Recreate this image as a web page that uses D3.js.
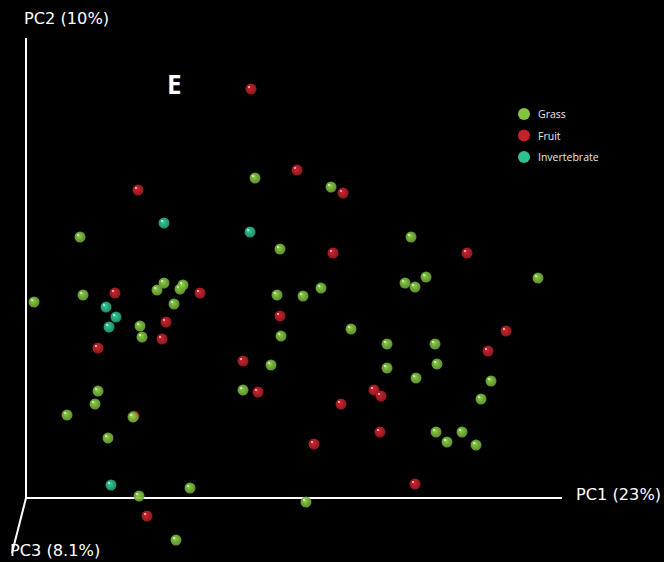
<!DOCTYPE html>
<html>
<head>
<meta charset="utf-8">
<script src="https://cdn.jsdelivr.net/npm/d3@7"></script>
<style>
  html, body { margin: 0; padding: 0; background: #000; }
  svg { display: block; }
</style>
</head>
<body>
<svg id="chart" width="664" height="562"></svg>
<script>
// PCoA scores (PC1, PC2) per sample, grouped by diet
const grassPC1 = [-0.252,-0.206,-0.203,-0.188,-0.191,-0.219,-0.178,-0.153,-0.147,-0.096,-0.110,0.020,-0.146,-0.144,-0.129,-0.122,-0.106,-0.103,-0.112,-0.031,0.045,-0.006,0.125,-0.009,0.017,0.035,-0.005,0.065,0.119,0.129,0.140,0.252,-0.015,0.101,0.101,0.149,0.151,0.130,-0.043,0.205,0.195,0.150,0.161,0.176,0.190];
const grassPC2 = [-0.032,0.033,-0.025,-0.121,-0.134,-0.145,-0.168,-0.147,-0.226,-0.218,-0.270,-0.232,-0.056,-0.067,-0.020,-0.013,-0.019,-0.015,-0.034,0.092,0.083,0.021,0.033,-0.025,-0.026,-0.018,-0.066,-0.059,-0.013,-0.017,-0.007,-0.008,-0.095,-0.074,-0.098,-0.074,-0.094,-0.108,-0.120,-0.111,-0.129,-0.162,-0.172,-0.162,-0.175];

const fruitPC1 = [-0.035,-0.148,0.011,0.057,0.047,0.181,-0.171,-0.086,-0.120,-0.124,-0.188,-0.006,-0.043,-0.028,0.088,0.095,0.055,0.220,0.202,0.028,0.094,0.129,-0.139,-0.152];
const fruitPC2 = [0.181,0.080,0.100,0.077,0.017,0.017,-0.023,-0.023,-0.052,-0.069,-0.078,-0.046,-0.091,-0.122,-0.120,-0.126,-0.134,-0.061,-0.081,-0.174,-0.162,-0.214,-0.246,-0.146];

const invertPC1 = [-0.122,-0.036,-0.180,-0.170,-0.177,-0.175];
const invertPC2 = [0.047,0.038,-0.037,-0.047,-0.057,-0.215];

const groups = ["Grass", "Fruit", "Invertebrate"];
const groupColors = ["#82c341", "#c4222b", "#2fc08f"];
const axisLabels = ["PC1 (23%)", "PC2 (10%)", "PC3 (8.1%)"];
const panelLabel = "E";

const svg = d3.select("#chart");
const W = 664, H = 562;
svg.append("rect").attr("width", W).attr("height", H).attr("fill", "#000");

const x = d3.scaleLinear().domain([-0.26, 0.276]).range([26, 562]);
const y = d3.scaleLinear().domain([-0.228, 0.23]).range([498, 40]);

// sphere shading gradients
const defs = svg.append("defs");
groupColors.forEach((c, i) => {
  const base = d3.color(c);
  const g = defs.append("radialGradient")
    .attr("id", "ball" + i)
    .attr("cx", "50%").attr("cy", "50%").attr("r", "55%")
    .attr("fx", "38%").attr("fy", "35%");
  g.append("stop").attr("offset", "0%").attr("stop-color", base.brighter(0.6));
  g.append("stop").attr("offset", "45%").attr("stop-color", base);
  g.append("stop").attr("offset", "100%").attr("stop-color", base.darker(0.7));
});

// axes frame
const ox = x(-0.26), oy = y(-0.228);
const axisG = svg.append("g").attr("stroke", "#fff").attr("stroke-width", 2).attr("fill", "none");
axisG.append("line").attr("x1", ox).attr("y1", oy).attr("x2", x(0.276)).attr("y2", oy);
axisG.append("line").attr("x1", ox).attr("y1", oy).attr("x2", ox).attr("y2", y(0.232));
axisG.append("line").attr("x1", ox).attr("y1", oy).attr("x2", ox - 14).attr("y2", oy + 55);

const axisFont = "'DejaVu Sans', Verdana, sans-serif";
const font = "'Open Sans', 'DejaVu Sans', sans-serif";
svg.append("text").attr("x", 576).attr("y", 500).text(axisLabels[0])
  .attr("fill", "#fff").attr("font-family", axisFont).attr("font-size", 16.2);
svg.append("text").attr("x", 24).attr("y", 24).text(axisLabels[1])
  .attr("fill", "#fff").attr("font-family", axisFont).attr("font-size", 16.2);
svg.append("text").attr("x", 10).attr("y", 556).text(axisLabels[2])
  .attr("fill", "#fff").attr("font-family", axisFont).attr("font-size", 16.2);

svg.append("text").attr("x", 167).attr("y", 94).text(panelLabel)
  .attr("fill", "#fff").attr("font-family", font).attr("font-size", 26).attr("font-weight", "bold");

// points
const series = [
  { pc1: fruitPC1, pc2: fruitPC2, k: 1 },
  { pc1: invertPC1, pc2: invertPC2, k: 2 },
  { pc1: grassPC1, pc2: grassPC2, k: 0 }
];
const R = 5.5;
series.forEach(s => {
  const pts = s.pc1.map((v, i) => ({ a: v, b: s.pc2[i] }));
  const g = svg.append("g");
  g.selectAll("circle.ball").data(pts).join("circle")
    .attr("class", "ball")
    .attr("cx", d => x(d.a)).attr("cy", d => y(d.b)).attr("r", R)
    .attr("fill", `url(#ball${s.k})`)
    .attr("opacity", 0.9);
  g.selectAll("circle.spec").data(pts).join("circle")
    .attr("class", "spec")
    .attr("cx", d => x(d.a) - 2).attr("cy", d => y(d.b) - 2).attr("r", 0.9)
    .attr("fill", "#fff").attr("opacity", 0.85);
});

// legend
const leg = svg.append("g").attr("transform", "translate(524,114)");
groups.forEach((name, i) => {
  leg.append("circle").attr("cx", 0).attr("cy", i * 21.5).attr("r", 6).attr("fill", groupColors[i]);
  leg.append("text").attr("x", 14).attr("y", i * 21.5 + 4).text(name)
    .attr("fill", "#e8e8e8").attr("font-family", font).attr("font-size", 10.5);
});
</script>
</body>
</html>
